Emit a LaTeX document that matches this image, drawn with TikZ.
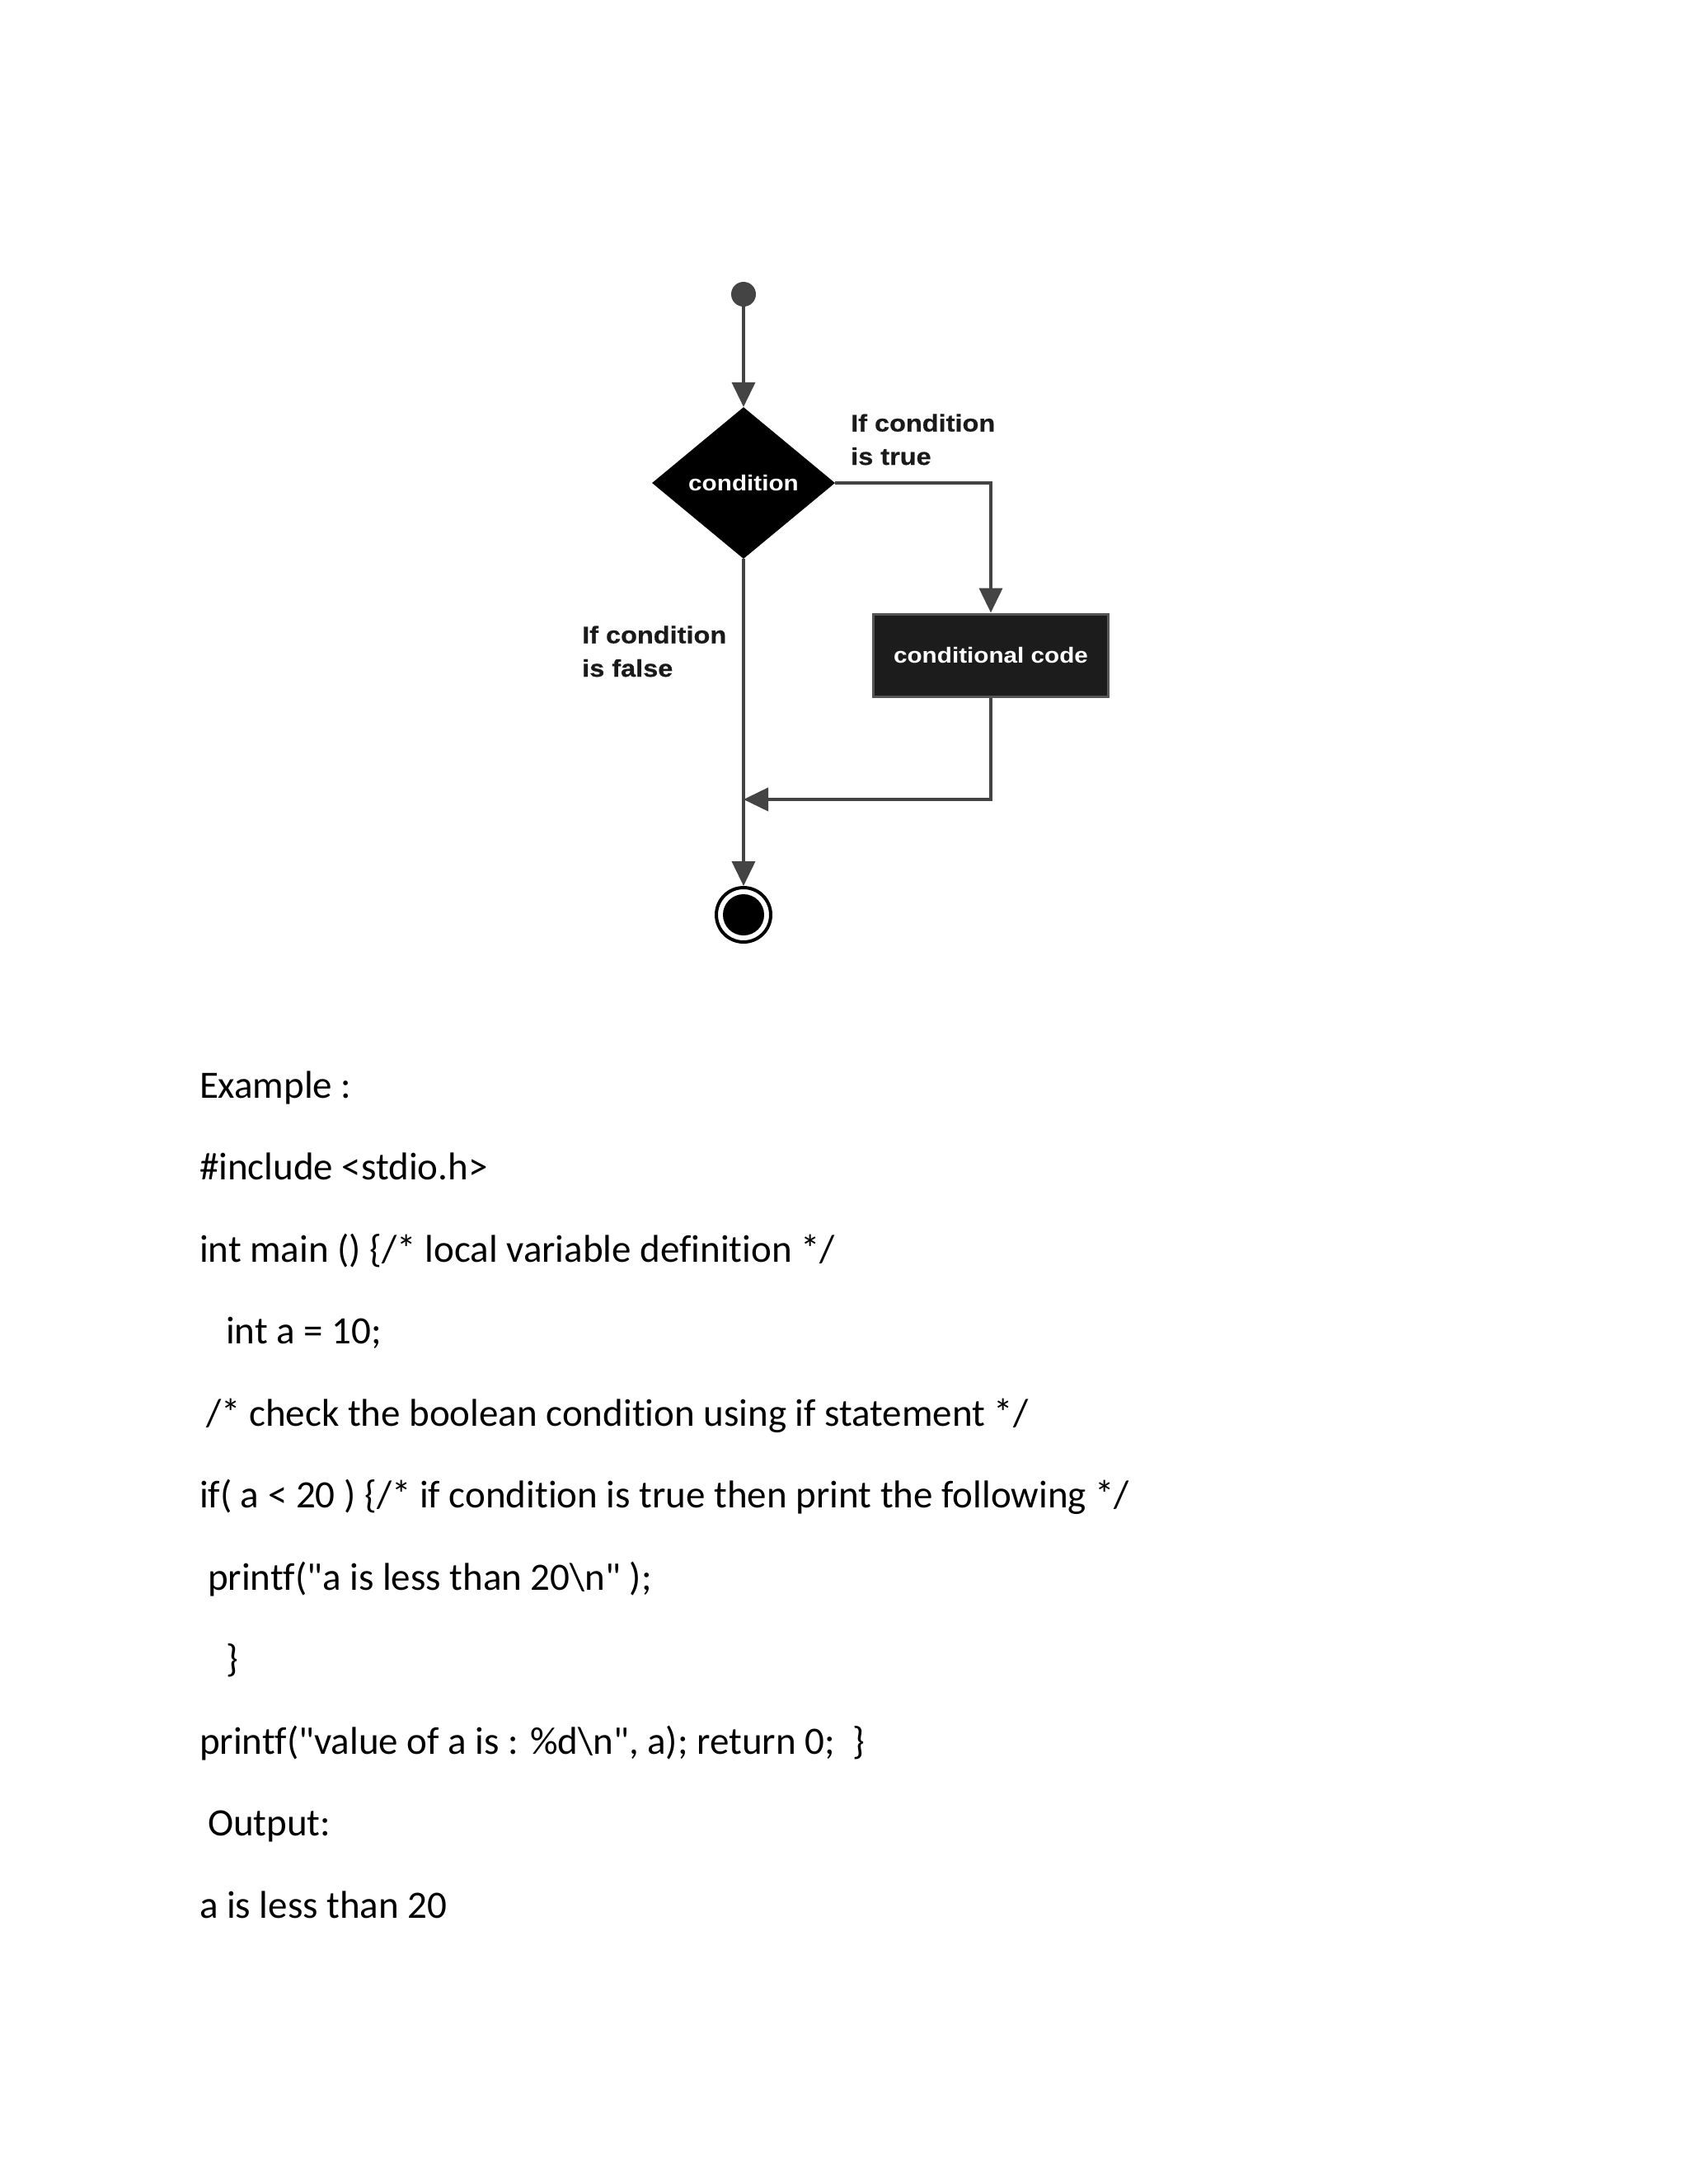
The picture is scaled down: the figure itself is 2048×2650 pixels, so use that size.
\documentclass[tikz,border=0pt]{standalone}
\usepackage{fontspec}
\setmainfont{Carlito}[Ligatures={NoCommon}]
\newfontfamily\flowfont[FakeStretch=1.12]{Liberation Sans}
\newfontfamily\lblfont[FakeStretch=1.12,FakeBold=0.6]{Liberation Sans}
\usetikzlibrary{shapes.geometric,arrows.meta}
\definecolor{linegray}{HTML}{444444}
\definecolor{boxfill}{HTML}{1C1C1C}
\definecolor{boxedge}{HTML}{555555}
\definecolor{lbltext}{HTML}{1A1A1A}
\begin{document}
\begin{tikzpicture}[x=1pt,y=-1pt,
  conn/.style={draw=linegray, line width=4pt},
  tipped/.style={-{Triangle[length=30pt,width=28pt]}},
  codeline/.style={anchor=base west, inner sep=0pt, outer sep=0pt, font=\fontsize{47}{56}\selectfont},
  lbl/.style={anchor=base west, inner sep=0pt, align=left, text=lbltext,
    font=\lblfont\bfseries\fontsize{29}{40.5}\selectfont},
  intext/.style={text=white, font=\flowfont\bfseries\fontsize{26.5}{30}\selectfont},
]
\useasboundingbox[fill=white] (0,0) rectangle (2048,2650);

% flowchart nodes
\node[circle, fill=linegray, minimum size=30pt, inner sep=0pt] (start) at (902,357) {};
\node[diamond, fill=black, minimum width=222pt, minimum height=184pt, inner sep=0pt, intext] (cond) at (902,586) {condition};
\node[rectangle, fill=boxfill, draw=boxedge, line width=3pt, minimum width=285pt, minimum height=100pt, inner sep=0pt, intext] (code) at (1202,795) {conditional code};
\node[circle, draw=black, line width=4pt, fill=white, minimum size=66pt, inner sep=0pt,
  path picture={\fill[black] (path picture bounding box.center) circle (25pt);}] (endn) at (902,1110) {};
\coordinate (merge) at (902,970);

% labels (anchor is the baseline of the last line)
\node[lbl] (truelbl) at (1032,564) {If condition\\is true};
\node[lbl] (falselbl) at (706,821) {If condition\\is false};

% connectors
\draw[conn, tipped] (start) -- (cond.north);
\draw[conn, tipped] (cond.east) -| (code.north);
\draw[conn, tipped] (cond.south) -- (endn.north);
\draw[conn, tipped] (code.south) |- (merge);

% code text
\node[codeline] (l0) at (242,1332) {Example :};
\node[codeline] (l1) at (242,1431.5) {\#include <stdio.h>};
\node[codeline] (l2) at (242,1531) {int main () \{/* local variable definition */};
\node[codeline] (l3) at (274,1630.5) {int a = 10;};
\node[codeline] (l4) at (250,1730) {/* check the boolean condition using if statement */};
\node[codeline] (l5) at (242,1829.5) {if( a < 20 ) \{/* if condition is true then print the following */};
\node[codeline] (l6) at (252,1929) {printf(\textquotedbl a is less than 20\textbackslash n\textquotedbl\ );};
\node[codeline] (l7) at (274,2028.5) {\}};
\node[codeline] (l8) at (242,2128) {printf(\textquotedbl value of a is : \%d\textbackslash n\textquotedbl, a); return 0;\ \ \}};
\node[codeline] (l9) at (252,2227.5) {Output:};
\node[codeline] (l10) at (242,2327) {a is less than 20};
\end{tikzpicture}
\end{document}
